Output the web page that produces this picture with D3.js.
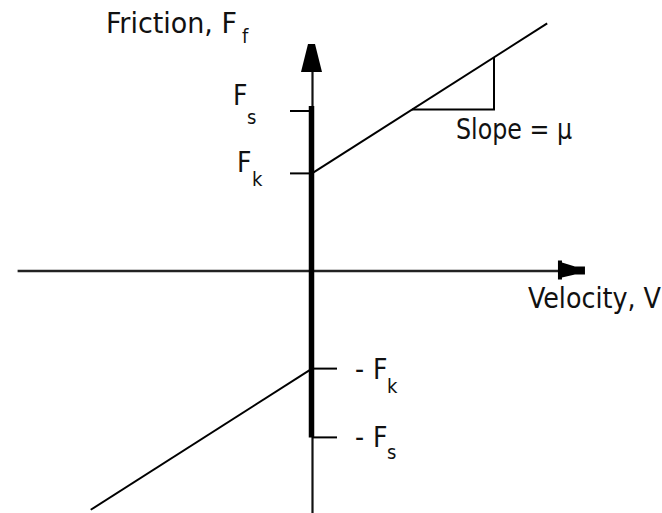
<!DOCTYPE html>
<html lang="en">
<head>
  <meta charset="UTF-8">
  <title>Friction vs velocity</title>
  <script src="https://d3js.org/d3.v7.min.js"></script>
  <style>
    body { margin: 0; background: #fff; }
    svg { display: block; }
    text {
      font-family: "DejaVu Sans Condensed", "DejaVu Sans", sans-serif;
      fill: #111;
    }
    .big { font-size: 28px; }
    .sub { font-size: 20px; }
  </style>
</head>
<body>
  <div id="chart"></div>
  <script>
    // friction levels (units of Fs)
    const tickNames  = ["F", "F", "-F", "-F"];
    const tickSubs   = ["s", "k", "k", "s"];
    const tickValues = [1.0, 0.61, -0.61, -1.04];
    const kinetic = 0.61;      // Fk
    const mu = 0.638;          // slope of the friction line
    // velocity extents of the two branches
    const branchV = [[0, 1.47], [0, -1.383]];
    // slope triangle, velocity range
    const triV = [0.625, 1.1375];
    // axis extents
    const velRange = [-1.84, 1.706];
    const fricRange = [-1.5125, 1.419];

    const width = 662, height = 513;

    const x = d3.scaleLinear().domain([0, 1]).range([312, 472]);
    const y = d3.scaleLinear().domain([0, 1]).range([271, 111]);

    const svg = d3.select("#chart").append("svg")
      .attr("width", width)
      .attr("height", height);

    const line = d3.line().x(d => x(d[0])).y(d => y(d[1]));

    // horizontal axis
    svg.append("line")
      .attr("x1", x(velRange[0])).attr("x2", x(velRange[1]) - 20)
      .attr("y1", y(0)).attr("y2", y(0))
      .attr("stroke", "#222").attr("stroke-width", 2.5);
    // arrow head at right end (triangle with a short tail)
    svg.append("path")
      .attr("transform", `translate(${x(velRange[1]) - 27},${y(0) - 0.5})`)
      .attr("d", "M0,-10 L4,-10 L4,-8 L17,-4 H27 V4 H17 L4,7 L4,9 L0,9 Z")
      .attr("fill", "#000");

    // vertical axis (thin)
    svg.append("line")
      .attr("x1", x(0) + 0.5).attr("x2", x(0) + 0.5)
      .attr("y1", y(fricRange[1]) + 20).attr("y2", y(fricRange[0]))
      .attr("stroke", "#111").attr("stroke-width", 2.2);
    // thick part between -Fs and Fs
    svg.append("line")
      .attr("x1", x(0) - 0.5).attr("x2", x(0) - 0.5)
      .attr("y1", y(d3.max(tickValues)) - 5).attr("y2", y(d3.min(tickValues)))
      .attr("stroke", "#000").attr("stroke-width", 5.5);
    // arrow head at top
    svg.append("path")
      .attr("transform", `translate(${x(0) - 0.5},${y(fricRange[1])})`)
      .attr("d", "M-3.5,0 H3.5 L10.5,28 H-10.5 Z")
      .attr("fill", "#000");

    // ticks: positive on the left, negative on the right
    svg.selectAll(".tick")
      .data(tickValues)
      .enter().append("line")
      .attr("class", "tick")
      .attr("x1", d => d > 0 ? x(0) - 22 : x(0))
      .attr("x2", d => d > 0 ? x(0) : x(0) + 25)
      .attr("y1", d => y(d)).attr("y2", d => y(d))
      .attr("stroke", "#000").attr("stroke-width", 2);

    // tick labels
    const labelOff = [
      { fx: 233, fy: -6, sx: 247, sy: 12.5 },
      { fx: 237, fy: -1.5, sx: 252, sy: 13 },
      { fx: 355, fy: 10, sx: 387, sy: 24 },
      { fx: 355, fy: 10, sx: 387, sy: 22 }
    ];
    tickValues.forEach((v, i) => {
      const o = labelOff[i];
      if (tickNames[i].startsWith("-")) {
        svg.append("text").attr("class", "big")
          .attr("x", o.fx).attr("y", y(v) + o.fy)
          .text("-");
        svg.append("text").attr("class", "big")
          .attr("x", o.fx + 18).attr("y", y(v) + o.fy)
          .text("F");
      } else {
        svg.append("text").attr("class", "big")
          .attr("x", o.fx).attr("y", y(v) + o.fy)
          .text(tickNames[i]);
      }
      svg.append("text").attr("class", "sub")
        .attr("x", o.sx).attr("y", y(v) + o.sy)
        .text(tickSubs[i]);
    });

    // friction branches
    branchV.forEach(b => {
      const sign = b[1] > 0 ? 1 : -1;
      const pts = b.map(v => [v, sign * kinetic + mu * v]);
      svg.append("path")
        .attr("d", line(pts))
        .attr("fill", "none")
        .attr("stroke", "#000")
        .attr("stroke-width", 2);
    });

    // slope triangle
    const f0 = kinetic + mu * triV[0];
    const f1 = kinetic + mu * triV[1];
    svg.append("path")
      .attr("d", line([[triV[0], f0], [triV[1], f0], [triV[1], f1]]))
      .attr("fill", "none")
      .attr("stroke", "#000")
      .attr("stroke-width", 2);

    // axis titles and annotation
    svg.append("text").attr("class", "big")
      .attr("x", 106).attr("y", 33)
      .attr("textLength", 131).attr("lengthAdjust", "spacingAndGlyphs")
      .text("Friction, F");
    svg.append("text").attr("class", "sub")
      .attr("x", 242).attr("y", 43)
      .text("f");

    svg.append("text").attr("class", "big")
      .attr("x", 528).attr("y", 308)
      .attr("textLength", 133).attr("lengthAdjust", "spacingAndGlyphs")
      .text("Velocity, V");

    svg.append("text").attr("class", "big")
      .attr("x", 456).attr("y", 139)
      .attr("textLength", 116).attr("lengthAdjust", "spacingAndGlyphs")
      .text("Slope = μ");
  </script>
</body>
</html>
